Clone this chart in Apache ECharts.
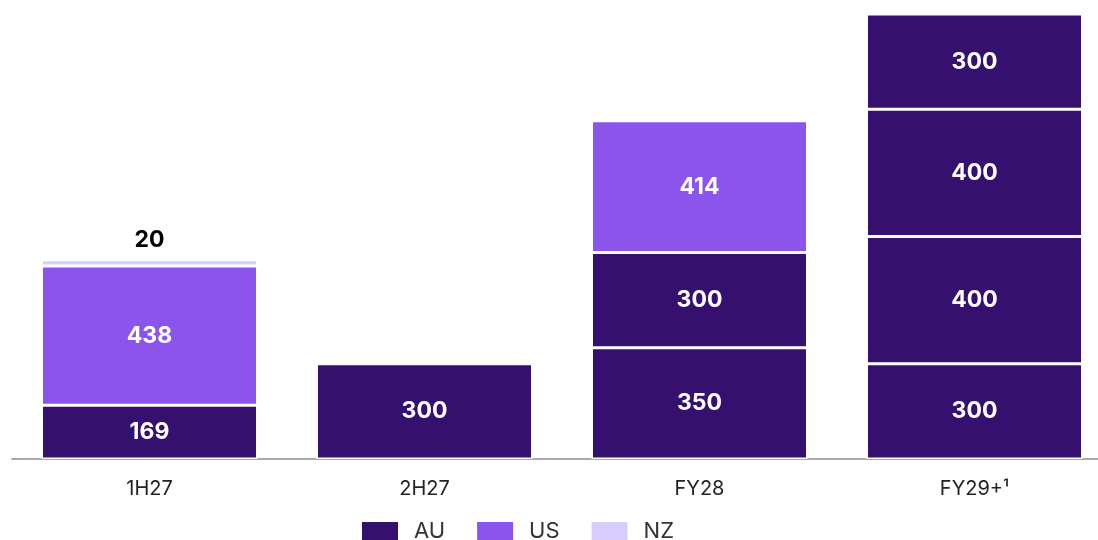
<!DOCTYPE html>
<html>
<head>
<meta charset="utf-8">
<script src="https://cdn.jsdelivr.net/npm/echarts@6/dist/echarts.min.js"></script>
<style>
  html, body { margin: 0; padding: 0; background: #fff; }
  #chart { width: 1098px; height: 540px; }
</style>
</head>
<body>
<div id="chart"></div>
<script>
// periods
var categories = ['1H27', '2H27', 'FY28', 'FY29+¹'];
// AU is split in several stacked blocks
var au1 = [169, 300, 350, 300];
var au2 = [null, null, 300, 400];
var au3 = [null, null, null, 400];
var au4 = [null, null, null, 300];
var us = [438, null, 414, null];
var nz = [20, null, null, null];

var colors = { AU: '#35106f', US: '#8b55eb', NZ: '#d9ccff' };

(function () {
    var chart = echarts.init(document.getElementById('chart'));

    function whiteLabel() {
        return {
            show: true,
            position: 'inside',
            color: '#fff',
            fontSize: 23,
            fontWeight: 'bold',
            fontFamily: 'Inter'
        };
    }

    function block(name, data, label) {
        return {
            name: name,
            type: 'bar',
            stack: 'total',
            data: data,
            barWidth: 216,
            itemStyle: { color: colors[name], borderColor: '#fff', borderWidth: 1.5 },
            label: label || whiteLabel()
        };
    }

    var option = {
        animation: false,
        textStyle: { fontFamily: 'Inter' },
        grid: { left: 12, right: -14, top: 14, bottom: 81, outerBoundsMode: 'none' },
        legend: {
            data: ['AU', 'US', 'NZ'],
            left: 360,
            top: 520,
            padding: 0,
            itemWidth: 38,
            itemHeight: 20,
            itemGap: 30,
            icon: 'rect',
            textStyle: { fontSize: 22, color: '#333', fontFamily: 'Inter', padding: [0, 0, 0, 10] }
        },
        xAxis: {
            type: 'category',
            data: categories,
            axisLine: { lineStyle: { color: '#aaa', width: 2 } },
            axisTick: { show: false },
            axisLabel: { fontSize: 20, color: '#222', margin: 20 }
        },
        yAxis: {
            type: 'value',
            min: 0,
            max: 1400,
            show: false,
            splitLine: { show: false }
        },
        series: [
            block('AU', au1),
            block('AU', au2),
            block('AU', au3),
            block('AU', au4),
            block('US', us),
            block('NZ', nz, {
                show: true,
                position: 'top',
                distance: 8,
                color: '#000',
                fontSize: 23,
                fontWeight: 'bold',
                fontFamily: 'Inter'
            })
        ]
    };
    chart.setOption(option);
})();
</script>
</body>
</html>
